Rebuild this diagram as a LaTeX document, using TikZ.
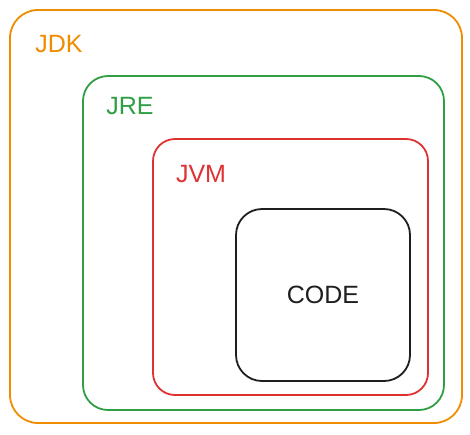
\documentclass[tikz,border=0pt]{standalone}
\usepackage{fontspec}
\setmainfont{Liberation Sans}
\definecolor{jdkc}{HTML}{F08C00}
\definecolor{jrec}{HTML}{2F9E44}
\definecolor{jvmc}{HTML}{E03131}
\definecolor{codec}{HTML}{1E1E1E}
\tikzset{
  layer/.style={draw, line width=1.8pt, rounded corners=#1, inner sep=0pt, fill=none},
  lbl/.style={font=\fontsize{25}{27}\selectfont, inner sep=0pt},
}
\begin{document}
\begin{tikzpicture}[x=1pt,y=-1pt]
\useasboundingbox (0,0) rectangle (470,434);
\node[layer=28pt, jdkc, minimum width=452pt, minimum height=413pt] (jdk) at (236,216.5) {};
\node[layer=25pt, jrec, minimum width=361pt, minimum height=334pt] (jre) at (263.5,243) {};
\node[layer=22pt, jvmc, minimum width=275pt, minimum height=256pt] (jvm) at (290.5,267) {};
\node[layer=26pt, codec, minimum width=174pt, minimum height=172pt] (code) at (323,295) {};
\node[lbl, text=jdkc] (jdkl) at (59,44) {JDK};
\node[lbl, text=jrec] (jrel) at (130,106) {JRE};
\node[lbl, text=jvmc] (jvml) at (201,174) {JVM};
\node[lbl, text=codec] (codel) at (code.center) {CODE};
\end{tikzpicture}
\end{document}
